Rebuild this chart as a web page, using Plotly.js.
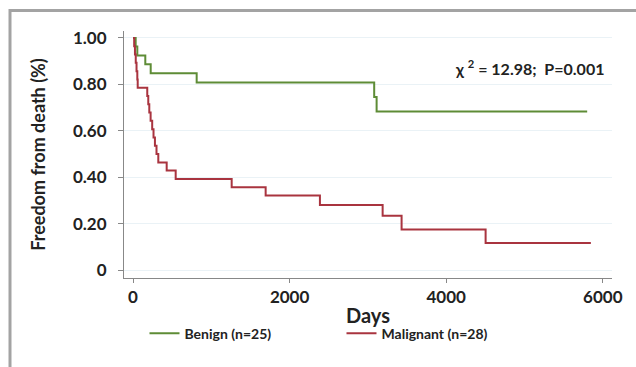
<!DOCTYPE html>
<html>
<head>
<meta charset="utf-8">
<script src="https://cdn.plot.ly/plotly-3.0.1.min.js"></script>
<style>html,body{margin:0;padding:0;background:#fff;}#chart{width:636px;height:367px;}</style>
</head>
<body>
<div id="chart"></div>
<script>
// Kaplan-Meier step data
var benignDays = [0, 34, 55, 157, 226, 813, 3080, 3111, 5800];
var benignSurv = [1, 0.963, 0.925, 0.887, 0.848, 0.808, 0.746, 0.683, 0.683];
var malignantDays = [0, 15, 25, 35, 45, 55, 60, 182, 195, 208, 225, 245, 262, 280, 300, 323, 430, 545, 1260, 1694, 2387, 3188, 3430, 4503, 5847];
var malignantSurv = [1, 0.964, 0.929, 0.893, 0.857, 0.821, 0.786, 0.75, 0.714, 0.679, 0.643, 0.607, 0.571, 0.536, 0.5, 0.464, 0.429, 0.393, 0.357, 0.321, 0.281, 0.234, 0.175, 0.117, 0.117];
var seriesNames = ["Benign (n=25)", "Malignant (n=28)"];
var yTickVals = [0, 0.2, 0.4, 0.6, 0.8, 1.0];
var yTickText = ["0", "0.20", "0.40", "0.60", "0.80", "1.00"];
var xTickVals = [0, 2000, 4000, 6000];
var xTickText = ["0", "2000", "4000", "6000"];

var FONT = "Lato, 'Open Sans', sans-serif";
var traces = [
  {x: benignDays, y: benignSurv, name: seriesNames[0], mode: "lines", line: {shape: "hv", color: "#5e8c36", width: 2}},
  {x: malignantDays, y: malignantSurv, name: seriesNames[1], mode: "lines", line: {shape: "hv", color: "#a9343f", width: 2}}
];
var layout = {
  width: 636, height: 367,
  margin: {l: 124, r: 24, t: 31, b: 89},
  paper_bgcolor: "#fff", plot_bgcolor: "#fff",
  font: {family: FONT, color: "#222", size: 14},
  showlegend: true,
  legend: {orientation: "h", x: 0.042, xanchor: "left", y: -0.225, yanchor: "middle",
    font: {family: FONT, size: 14, color: "#222", weight: "bold"}, entrywidth: 152, tracegroupgap: 0},
  xaxis: {range: [-115, 6117], tickvals: xTickVals, ticktext: xTickText, ticks: "outside", ticklen: 4,
    tickcolor: "#888", showline: true, linecolor: "#888", linewidth: 1, showgrid: false, zeroline: false,
    tickfont: {family: FONT, size: 17, weight: "bold", color: "#222"},
    title: {text: "<b>Days</b>", font: {family: FONT, size: 20, color: "#222"}, standoff: 2}},
  yaxis: {range: [-0.034, 1.03], tickvals: yTickVals, ticktext: yTickText, ticks: "outside", ticklen: 5,
    tickcolor: "#888", showline: true, linecolor: "#888", linewidth: 1, showgrid: true, gridcolor: "#eaf2f6",
    zeroline: false, ticklabelstandoff: 8, tickfont: {family: FONT, size: 17, weight: "bold", color: "#222"},
    title: {text: "<b>Freedom from death (%)</b>", font: {family: FONT, size: 18, color: "#222"}, standoff: 22}},
  annotations: [
    {xref: "paper", yref: "paper", x: 0.988, y: 0.853, xanchor: "right", yanchor: "middle", showarrow: false,
     text: "<b>χ <sup>2</sup> = 12.98;  P=0.001</b>", font: {family: FONT, size: 16, color: "#222"}}
  ],
  shapes: [
    {type: "line", xref: "paper", yref: "paper", x0: -0.2336, x1: 1.05, y0: 1.083, y1: 1.083, line: {color: "#a3a3a3", width: 3}},
    {type: "line", xref: "paper", yref: "paper", x0: -0.2336, x1: -0.2336, y0: 1.089, y1: -0.37, line: {color: "#a3a3a3", width: 3}}
  ]
};
Plotly.newPlot("chart", traces, layout, {displayModeBar: false, staticPlot: true});
</script>
</body>
</html>
